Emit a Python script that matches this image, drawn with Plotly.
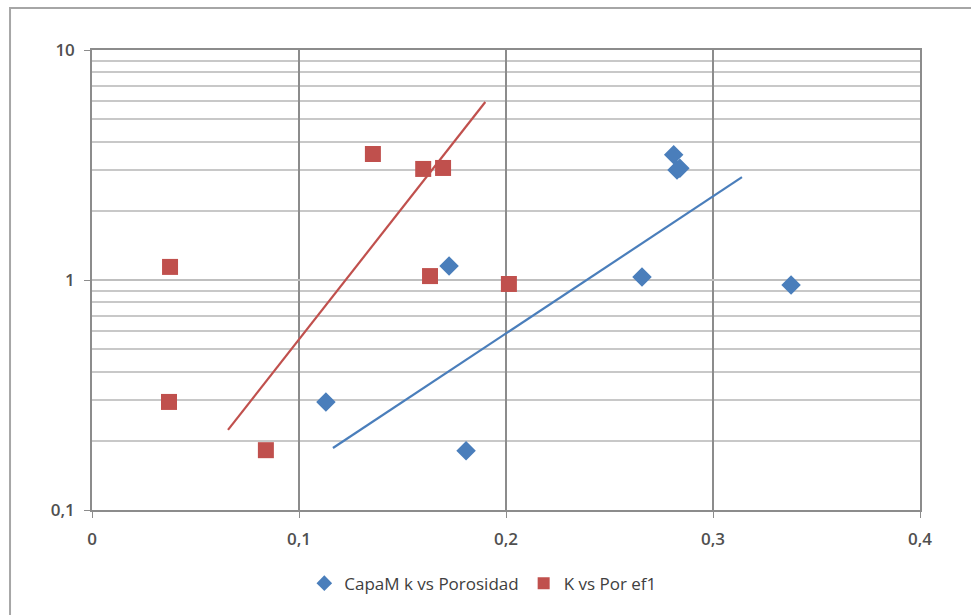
import plotly.graph_objects as go

# Data
blue_x = [0.113, 0.1725, 0.1807, 0.2657, 0.281, 0.2826, 0.2840, 0.3377]
blue_y = [0.295, 1.15, 0.181, 1.03, 3.50, 3.01, 3.06, 0.951]
red_x = [0.0377, 0.0372, 0.084, 0.1357, 0.160, 0.1696, 0.1633, 0.2014]
red_y = [1.14, 0.295, 0.182, 3.53, 3.04, 3.07, 1.04, 0.961]

# Trendline endpoints (exponential trendlines)
blue_trend_x = [0.1164, 0.314]
blue_trend_y = [0.186, 2.80]
red_trend_x = [0.0657, 0.190]
red_trend_y = [0.223, 5.94]

x_ticks = [0, 0.1, 0.2, 0.3, 0.4]
x_tick_text = ["0", "0,1", "0,2", "0,3", "0,4"]
y_ticks = [0.1, 1, 10]
y_tick_text = ["0,1", "1", "10"]
y_minor = [0.2, 0.3, 0.4, 0.5, 0.6, 0.7, 0.8, 0.9, 2, 3, 4, 5, 6, 7, 8, 9]

BLUE = "#4a7ebb"
RED = "#c0504d"
TICKFONT = dict(family="Open Sans, Liberation Sans, sans-serif", size=17, color="#505050", weight=600)

fig = go.Figure()
fig.add_trace(go.Scatter(x=blue_trend_x, y=blue_trend_y, mode="lines",
                         line=dict(color=BLUE, width=2.2), showlegend=False, hoverinfo="skip"))
fig.add_trace(go.Scatter(x=red_trend_x, y=red_trend_y, mode="lines",
                         line=dict(color=RED, width=2.2), showlegend=False, hoverinfo="skip"))
fig.add_trace(go.Scatter(x=blue_x, y=blue_y, mode="markers", name="CapaM k vs Porosidad",
                         marker=dict(symbol="diamond", size=15, color=BLUE)))
fig.add_trace(go.Scatter(x=red_x, y=red_y, mode="markers", name="K vs Por ef1",
                         marker=dict(symbol="square", size=16, color=RED)))

fig.update_layout(
    width=971, height=615,
    margin=dict(l=92, r=51, t=50, b=105),
    paper_bgcolor="white", plot_bgcolor="white",
    font=dict(family="Open Sans, Liberation Sans, sans-serif", size=14, color="#404040"),
    showlegend=True,
    legend=dict(orientation="h", x=0.472, xanchor="center", y=-0.16, yanchor="middle",
                font=dict(size=17, color="#404040"), itemsizing="constant",
                itemwidth=30, tracegroupgap=0),
    xaxis=dict(range=[0, 0.4], tickvals=x_ticks, ticktext=x_tick_text,
               showgrid=True, gridcolor="#8c8c8c", gridwidth=1.5,
               showline=True, linecolor="#8c8c8c", linewidth=1.5, mirror=True,
               ticks="outside", ticklen=6, tickcolor="#8c8c8c", zeroline=False,
               ticklabelstandoff=7, tickfont=TICKFONT),
    yaxis=dict(type="log", range=[-1, 1], tickvals=y_ticks, ticktext=y_tick_text,
               showgrid=True, gridcolor="#bfbfbf", gridwidth=2,
               showline=True, linecolor="#8c8c8c", linewidth=1.5, mirror=True,
               ticks="outside", ticklen=6, tickcolor="#8c8c8c", zeroline=False,
               ticklabelstandoff=6, tickfont=TICKFONT,
               minor=dict(tickvals=y_minor, showgrid=True, gridcolor="#c8c8c8", gridwidth=2, ticks="")),
    shapes=[dict(type="rect", xref="paper", yref="paper",
                 x0=-0.099, x1=1.07, y0=-0.25, y1=1.0913,
                 line=dict(color="#a6a6a6", width=2), layer="below")],
)

fig.write_html("out.html")
